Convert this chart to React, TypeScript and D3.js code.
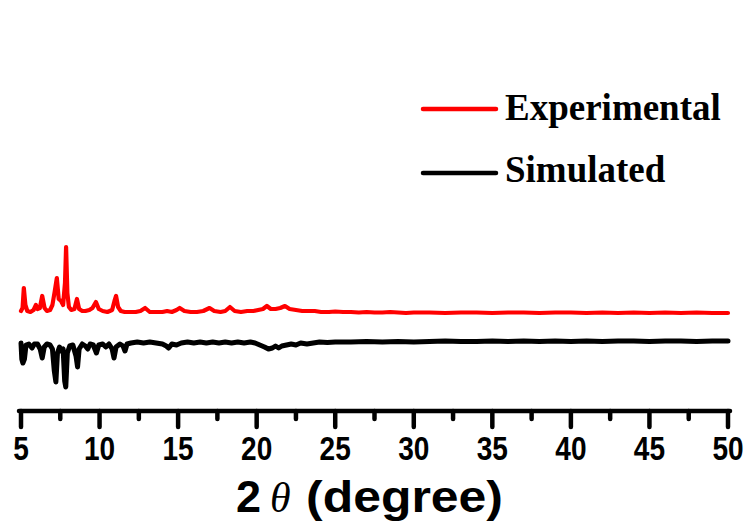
import React from "react";
import * as d3 from "d3";

// 2θ (degree), intensity above each trace's baseline (arbitrary units)
const expTheta = [5.0, 5.1, 5.18, 5.28, 5.4, 5.6, 5.8, 5.95, 6.05, 6.2, 6.35, 6.5, 6.65, 6.85, 7.0, 7.15, 7.28, 7.4, 7.55, 7.68, 7.8, 7.87, 7.95, 8.05, 8.2, 8.4, 8.56, 8.7, 8.9, 9.1, 9.35, 9.55, 9.77, 9.95, 10.2, 10.5, 10.8, 10.95, 11.05, 11.18, 11.35, 11.6, 11.9, 12.3, 12.6, 12.9, 13.2, 13.6, 14.0, 14.3, 14.6, 14.9, 15.1, 15.4, 15.8, 16.2, 16.6, 17.0, 17.3, 17.7, 18.0, 18.3, 18.6, 19.0, 19.4, 19.8, 20.1, 20.4, 20.65, 20.9, 21.2, 21.5, 21.8, 22.1, 22.5, 22.9, 23.3, 23.7, 24.1, 24.6, 25.0, 25.5, 26.0, 26.5, 27.0, 27.5, 28.0, 28.5, 29.0, 29.5, 30.0, 31.0, 32.0, 33.0, 34.0, 35.0, 36.0, 37.0, 38.0, 39.0, 40.0, 41.0, 42.0, 43.0, 44.0, 45.0, 46.0, 47.0, 48.0, 49.0, 50.0];
const expIntensity = [2, 5, 25, 8, 2, 1, 3, 8, 4, 5, 17, 5, 2, 3, 8, 22, 35, 14, 12, 8, 30, 66, 20, 6, 3, 4, 14, 4, 2, 2, 3, 5, 11, 4, 2, 1, 3, 12, 17, 6, 2, 1, 1, 1, 2, 5, 1, 1, 1, 2, 1, 3, 5, 2, 1, 1, 2, 5, 2, 1, 2, 6, 2, 1, 2, 2, 3, 4, 7, 4, 4, 5, 7, 4, 3, 2, 2, 2, 1, 1, 1.5, 1, 1, 0.5, 1, 0.5, 0.5, 1, 0.5, 0, 0.5, 0.5, 0, 0.5, 0.5, 0, 0.5, 0.5, 0, 0.5, 0.5, 0, 0.5, 0, 0.5, 0, 0.5, 0, 0.5, 0, 0];

const simTheta = [5.0, 5.05, 5.12, 5.22, 5.32, 5.5, 5.7, 5.85, 6.05, 6.22, 6.35, 6.48, 6.65, 6.85, 7.0, 7.12, 7.22, 7.32, 7.45, 7.55, 7.68, 7.78, 7.85, 7.95, 8.1, 8.3, 8.5, 8.6, 8.7, 8.9, 9.1, 9.25, 9.4, 9.6, 9.8, 9.95, 10.2, 10.4, 10.6, 10.8, 10.92, 11.05, 11.3, 11.5, 11.62, 11.75, 12.0, 12.4, 12.8, 13.2, 13.6, 14.0, 14.25, 14.4, 14.6, 14.9, 15.2, 15.6, 16.0, 16.4, 16.8, 17.2, 17.6, 18.0, 18.4, 18.8, 19.2, 19.6, 19.9, 20.2, 20.5, 20.75, 21.0, 21.2, 21.4, 21.6, 21.9, 22.2, 22.5, 22.8, 23.2, 23.6, 24.0, 24.5, 25.0, 26.0, 27.0, 28.0, 29.0, 30.0, 31.0, 32.0, 33.0, 34.0, 35.0, 36.0, 37.0, 38.0, 39.0, 40.0, 41.0, 42.0, 43.0, 44.0, 45.0, 46.0, 47.0, 48.0, 49.0, 50.0];
const simIntensity = [-2, -18, -22, -18, -4, -3, -7, -3, -3, -8, -17, -6, -3, -4, -8, -30, -41, -12, -6, -10, -8, -40, -46, -12, -5, -4, -15, -26, -8, -3, -5, -8, -3, -4, -12, -4, -3, -6, -3, -8, -17, -6, -3, -5, -10, -3, -2, -1, -2, -1, -2, -3, -5, -7, -3, -4, -2, -1, -2, -1, -2, -1, -2, -1, -2, -1, -2, -1, -2, -4, -6, -8, -7, -5, -7, -5, -4, -3, -4, -2, -3, -2, -1, -1.5, -1, -1, -0.5, -1, -0.5, -1, -0.5, 0, -0.5, -0.5, 0, -0.5, 0, -0.5, 0, -0.5, 0, -0.5, 0, 0, -0.5, 0, 0, -0.5, 0, 0];

const expOffset = 96;
const simOffset = 68;

const majorTicks = [5, 10, 15, 20, 25, 30, 35, 40, 45, 50];
const minorTicks = [7.5, 12.5, 17.5, 22.5, 27.5, 32.5, 37.5, 42.5, 47.5];

const seriesNames = ["Experimental", "Simulated"];
const seriesColors = ["#ff0000", "#000000"];

export default function App() {
  const W = 749, H = 528;
  const x = d3.scaleLinear().domain([5, 50]).range([21, 728]);
  const y = d3.scaleLinear().domain([0, 200]).range([409, 209]);
  const axisY = 411;

  const expPts: [number, number][] = expTheta.map((t, i) => [t, expIntensity[i] + expOffset]);
  const simPts: [number, number][] = simTheta.map((t, i) => [t, simIntensity[i] + simOffset]);
  const line = d3.line<[number, number]>().x(d => x(d[0])).y(d => y(d[1]));

  return (
    <svg width={W} height={H} style={{ position: "absolute", left: 0, top: 0, background: "#fff" }}>
      <rect x={0} y={0} width={W} height={H} fill="#fff" />
      <path d={line(simPts) || ""} fill="none" stroke={seriesColors[1]} strokeWidth={5} strokeLinejoin="round" strokeLinecap="round" />
      <path d={line(expPts) || ""} fill="none" stroke={seriesColors[0]} strokeWidth={4.2} strokeLinejoin="round" strokeLinecap="round" />

      {/* axis */}
      <line x1={x(5) - 2} x2={x(50) + 2} y1={axisY} y2={axisY} stroke="#000" strokeWidth={4.5} strokeLinecap="round" />
      {majorTicks.map(t => (
        <line key={"M" + t} x1={x(t)} x2={x(t)} y1={axisY} y2={427} stroke="#000" strokeWidth={4.5} strokeLinecap="round" />
      ))}
      {minorTicks.map(t => (
        <line key={"m" + t} x1={x(t)} x2={x(t)} y1={axisY} y2={419} stroke="#000" strokeWidth={4.5} strokeLinecap="round" />
      ))}
      {majorTicks.map(t => (
        <text key={"l" + t} transform={`translate(${x(t)},460) scale(0.85,1)`} textAnchor="middle"
          fontFamily="'Liberation Sans', Arial, sans-serif" fontWeight="bold" fontSize={33} fill="#000">{t}</text>
      ))}

      {/* axis title */}
      <text x={236} y={512} fontFamily="'Liberation Sans', Arial, sans-serif" fontWeight="bold" fontSize={45} fill="#000">2</text>
      <text x={270} y={512} fontFamily="'Liberation Serif', 'Times New Roman', serif" fontStyle="italic" fontSize={42} fill="#000">θ</text>
      <text x={306} y={512} fontFamily="'Liberation Sans', Arial, sans-serif" fontWeight="bold" fontSize={45} fill="#000"
        textLength={197} lengthAdjust="spacingAndGlyphs">(degree)</text>

      {/* legend */}
      {seriesNames.map((n, i) => (
        <g key={n}>
          <line x1={423} x2={496} y1={i === 0 ? 109 : 173} y2={i === 0 ? 109 : 173} stroke={seriesColors[i]} strokeWidth={4.5} strokeLinecap="round" />
          <text x={505} y={i === 0 ? 120 : 182} fontFamily="'Liberation Serif', 'Times New Roman', serif" fontWeight="bold" fontSize={37} fill="#000">{n}</text>
        </g>
      ))}
    </svg>
  );
}
